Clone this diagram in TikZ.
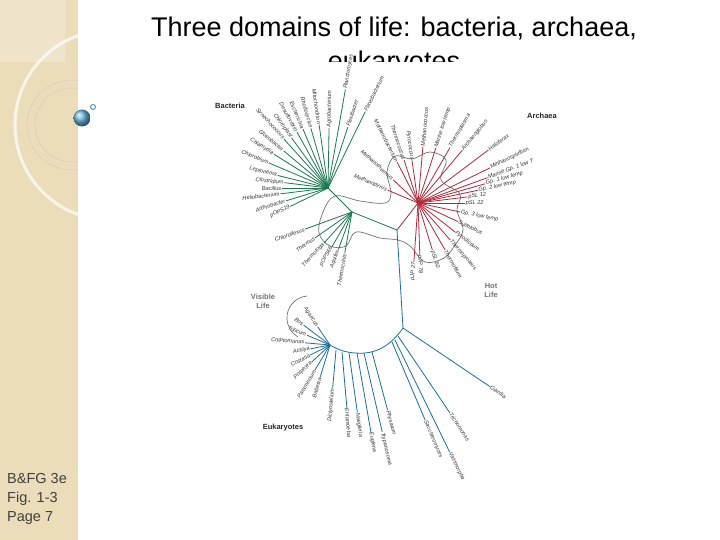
\documentclass[tikz,border=0pt]{standalone}
\usepackage{fontspec}
\setmainfont{Liberation Sans}
\setsansfont{Liberation Sans}
\usepackage{tikz}
\definecolor{strip}{RGB}{236,221,186}
\definecolor{bacgreen}{RGB}{30,120,80}
\definecolor{arcred}{RGB}{180,40,55}
\definecolor{eukblue}{RGB}{30,110,150}
\definecolor{ballblue}{RGB}{110,185,220}

% leaves: prefix, branch style, list of hub/angle/length/text
\newcommand\leaves[3]{%
  \foreach \h/\a/\r/\t [count=\i] in {#3}{
    \pgfmathsetmacro\na{mod(\a+720,360)}
    \pgfmathtruncatemacro\fl{and(\na>90,\na<270)}
    \path (\h) ++(-\a:\r) coordinate (#1t\i);
    \draw[#2] (\h) -- (#1t\i);
    \ifnum\fl=1
      \node[lbl,anchor=east,rotate=\na-180] (#1l\i) at (#1t\i) {\t};
    \else
      \node[lbl,anchor=west,rotate=\na] (#1l\i) at (#1t\i) {\t};
    \fi
  }%
}

\begin{document}
\begin{tikzpicture}[x=1pt,y=-1pt,
  lbl/.style={inner sep=0.6pt,font=\fontsize{5.6}{6.5}\selectfont\itshape,text=black!80},
  domainlbl/.style={font=\fontsize{7.5}{9}\selectfont\bfseries,text=black!85},
  bac/.style={draw=bacgreen,line width=0.8pt},
  arcb/.style={draw=arcred,line width=0.8pt},
  euk/.style={draw=eukblue,line width=0.8pt},
  ]
  \useasboundingbox (0,0) rectangle (720,540);
  %Slide background
  \fill[strip] (0,0) rectangle (78,540);
  \begin{scope}
    \clip (0,0) rectangle (78,540);
    \fill[white,opacity=0.25] (0,0) rectangle (65,62);
    \draw[white,opacity=0.7,line width=3pt] (110,125) circle (95);
    \draw[black!25,opacity=0.6,line width=0.4pt] (72,125) circle (45);
    \draw[black!25,opacity=0.6,line width=0.4pt] (72,125) circle (37);
  \end{scope}
  \shade[ball color=ballblue] (82,118) circle (8.5);
  \draw[ballblue!80!black,line width=1pt] (93,107) circle (2.5);
  \node[font=\fontsize{27}{31}\selectfont] (title1) at (394,28) {Three domains of life: bacteria, archaea,};
  \node[font=\fontsize{27}{31}\selectfont] (title2) at (394,64) {eukaryotes};
  \node[font=\fontsize{14.5}{19}\selectfont,text=black!75,align=left,anchor=north west,inner sep=0pt]
    (src) at (7,473) {B\&FG 3e\\Fig. 1-3\\Page 7};
  \fill[white] (205,62) rectangle (570,490);
  %Outline
  \draw[black!55,line width=0.7pt] plot[smooth cycle,tension=0.6] coordinates {
    (335,196) (360,201) (385,203) (391,193) (387,172) (395,156) (412,159) (430,152)
    (446,160) (441,180) (460,194) (457,210) (463,230) (455,245) (444,258) (425,262)
    (410,246) (398,240) (380,238) (356,232) (346,246) (330,246) (319,233) (323,212)};
  %Hubs
  \coordinate (B) at (328,188);
  \coordinate (C) at (352,212);
  \coordinate (R) at (397,230);
  \coordinate (A) at (418,203);
  \coordinate (E0) at (403,328);
  \coordinate (V) at (330,345);
  \draw[bac] (B) -- (C);
  \draw[bac] (C) -- (R);
  \draw[arcb] (R) -- (A);
  \draw[euk] (R) -- (E0);
  \draw[euk] (E0) to[out=235,in=-5] (355,353) to[out=175,in=-30] (V);
  %Bacteria
  \leaves{b}{bac}{B/64/85/Flavobacterium, B/72/64/Flexibacter, B/80/100/Planctomyces,
    B/89/60/Agrobacterium, B/98/64/Mitochondrion, B/106/62/Rhodocyclus,
    B/113/64/Escherichia, B/119/64/Desulfovibrio, B/126/62/Chloroplast,
    B/132/66/Synechococcus, B/140/58/Gloeobacter, B/148/64/Chlamydia,
    B/157/64/Chlorobium, B/166/52/Leptonema, B/173/44/Clostridium,
    B/180/46/Bacillus, B/187/48/Heliobacterium, B/197/44/Arthrobacter,
    B/206/42/pOPS19, C/200/50/Chloroflexus, C/215/45/Thermus,
    C/228/42/Thermotoga, C/240/40/pOPS66, C/250/40/Aquifex, C/260/42/Thermocrinis}
  %Archaea
  \leaves{a}{arcb}{A/137/34/Methanothermus, A/157/33/Methanopyrus,
    A/117/46/Methanobacterium, A/108/45/Thermococcus, A/98/43/Pyrococcus,
    A/85/56/Methanococcus, A/72/58/Marine low temp, A/60/64/Thermoplasma,
    A/50/69/Archaeoglobus, A/37/88/Haloferax, A/26/80/Methanospirillum,
    A/20/74/Marine Gp. 1 low T, A/16/70/Gp. 1 low temp, A/12/61/Gp. 2 low temp,
    A/7/50/pSL 12, A/0/47/pSL 22, A/-12/43/Gp. 3 low temp, A/-25/44/Sulfolobus,
    A/-38/47/Pyrodictium, A/-49/49/Thermoproteus, A/-60/54/Thermofilum,
    A/-73/49/pSL 50, A/-88/52/pJP 78, A/-94/59/pJP 27}
  %Eukaryotes
  \coordinate (e1) at (398,336);
  \coordinate (e2) at (395,340);
  \coordinate (e3) at (392,342);
  \coordinate (e4) at (372,352);
  \coordinate (e5) at (364,353);
  \coordinate (e6) at (357,353);
  \coordinate (e7) at (349,353);
  \coordinate (e8) at (342,352);
  \coordinate (e9) at (336,350);
  \leaves{e}{euk}{E0/-34/105/Giardia, e1/-56/93/Trichomonas, e2/-64/125/Vairimorpha,
    e3/-67/85/Saccharomyces, e4/-75/60/Physarum, e5/-77/81/Trypanosoma,
    e6/-80/80/Euglena, e7/-82/60/Naegleria, e8/-85/56/Entamoeba,
    e9/-95/38/Dictyostelium, V/-107/34/Babesia, V/-121/29/Paramecium,
    V/-137/25/Porphyra, V/-153/22/Costaria, V/-169/20/Achlya,
    V/175/25/Cryptomonas, V/157/25/Triticum, V/143/33/Bos, V/124/22/Agaricus}
  %Domain labels
  \node[domainlbl] (bacteria) at (230,106) {Bacteria};
  \node[domainlbl] (archaea) at (542,116) {Archaea};
  \node[domainlbl] (eukaryotes) at (283,428) {Eukaryotes};
  \node[domainlbl,text=black!55,align=center] (hot) at (491,290) {Hot\\Life};
  \node[domainlbl,text=black!55,align=center] (visible) at (263,301) {Visible\\Life};
  \draw[black!60,line width=0.6pt] (307,296) arc[start angle=-95,end angle=-240,radius=22];
\end{tikzpicture}
\end{document}
